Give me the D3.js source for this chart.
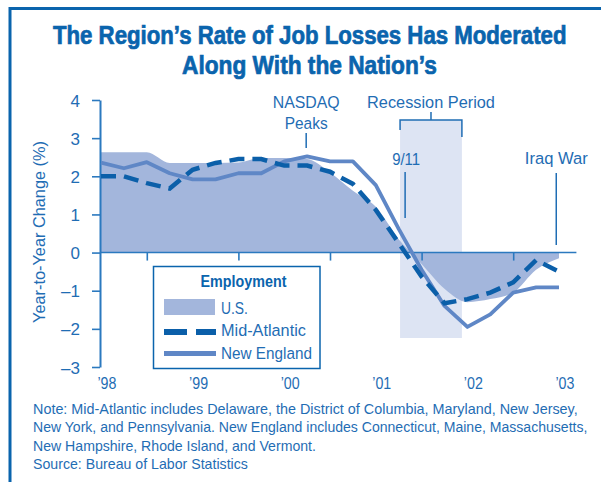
<!DOCTYPE html>
<html>
<head>
<meta charset="utf-8">
<script src="https://cdn.jsdelivr.net/npm/d3@7"></script>
<style>
  html, body { margin: 0; padding: 0; background: #fff; }
  svg { display: block; }
</style>
</head>
<body>
<div id="chart"></div>
<script>
// quarterly points, Q1 1998 .. Q1 2003
const quarters = d3.range(21).map(i => 1998 + i / 4);
const usValues = [2.63, 2.63, 2.63, 2.35, 2.35, 2.35, 2.36, 2.48, 2.48, 2.45, 2.1, 1.62, 1.2, 0.35, -0.3, -0.95, -1.3, -1.22, -1.05, -0.45, -0.15];
const midAtlantic = [2.0, 2.0, 1.82, 1.68, 2.17, 2.35, 2.45, 2.45, 2.28, 2.28, 2.12, 1.8, 1.12, 0.25, -0.63, -1.33, -1.22, -1.05, -0.78, -0.2, -0.5];
const newEngland = [2.36, 2.21, 2.37, 2.08, 1.92, 1.92, 2.08, 2.08, 2.39, 2.52, 2.39, 2.39, 1.77, 0.62, -0.45, -1.4, -1.95, -1.62, -1.05, -0.91, -0.91];

const yearLabels = ['\u201998', '\u201999', '\u201900', '\u201901', '\u201902', '\u201903'];
const years = [1998, 1999, 2000, 2001, 2002, 2003];
const yTicks = [4, 3, 2, 1, 0, -1, -2, -3];
const midYearTicks = [1998.5, 1999.5, 2000.5, 2001.5, 2002.5];

// events
const recession = [2001.265, 2001.94];
const nasdaqPeak = 2000.24;
const sept11 = 2001.32;
const iraqWar = 2002.97;

const noteLines = [
  'Note: Mid-Atlantic includes Delaware, the District of Columbia, Maryland, New Jersey,',
  'New York, and Pennsylvania. New England includes Connecticut, Maine, Massachusetts,',
  'New Hampshire, Rhode Island, and Vermont.',
  'Source: Bureau of Labor Statistics'
];
const noteWidths = [545, 555, 283, 215];

const W = 601, H = 482;
const TITLE = '#0a64ad';
const TEXT = '#1f6db4';
const AXIS = '#2b79bf';
const MA_COLOR = '#0b5fa9';
const NE_COLOR = '#5f87c6';
const US_COLOR = '#a3b6dc';
const REC_COLOR = '#dde4f3';
const FONT = "'Liberation Sans Narrow', 'Arial Narrow', 'Liberation Sans', Arial, sans-serif";

// squeeze a text horizontally to the measured width of the original (condensed face)
function squeeze(sel, w, extra) {
  const L = sel.node().getComputedTextLength();
  const tx = +sel.attr('x') || 0, ty = +sel.attr('y') || 0;
  sel.attr('x', 0).attr('y', 0)
    .attr('transform', `translate(${tx},${ty}) ${extra || ''} scale(${w / L},1)`);
  return sel;
}

const svg = d3.select('#chart').append('svg')
  .attr('width', W)
  .attr('height', H)
  .attr('font-family', FONT);

const x = d3.scaleLinear().domain([1998, 2003]).range([101, 559]);
const y = d3.scaleLinear().domain([-3, 4]).range([367, 100]);

// frame
svg.append('path')
  .attr('d', `M10,${H} V8.5 H${W}`)
  .attr('fill', 'none')
  .attr('stroke', TITLE)
  .attr('stroke-width', 3);

// title (thin stroke to get the heavy weight)
const titleG = svg.append('g')
  .attr('font-size', 25).attr('font-weight', 'bold')
  .attr('fill', TITLE).attr('stroke', TITLE).attr('stroke-width', 0.7);
squeeze(titleG.append('text').attr('x', 53).attr('y', 44)
  .text('The Region\u2019s Rate of Job Losses Has Moderated'), 514);
squeeze(titleG.append('text').attr('x', 182).attr('y', 74)
  .text('Along With the Nation\u2019s'), 255);

// recession shading
svg.append('rect')
  .attr('x', x(recession[0]))
  .attr('y', 120)
  .attr('width', x(recession[1]) - x(recession[0]))
  .attr('height', 338 - 120)
  .attr('fill', REC_COLOR);

// US area
const area = d3.area()
  .x((d, i) => x(quarters[i]))
  .y0(y(0))
  .y1(d => y(d))
  .curve(d3.curveMonotoneX);

svg.append('path')
  .datum(usValues)
  .attr('d', area)
  .attr('fill', US_COLOR);

// y axis
const yAxis = svg.append('g')
  .attr('transform', 'translate(100,0)')
  .call(d3.axisLeft(y).tickValues(yTicks).tickSize(8).tickSizeOuter(0).tickPadding(12)
    .tickFormat(d => d < 0 ? '\u2013' + Math.abs(d) : d));
yAxis.select('.domain').attr('stroke', AXIS).attr('stroke-width', 2);
yAxis.selectAll('.tick line').attr('stroke', AXIS).attr('stroke-width', 1.6);
yAxis.selectAll('.tick text')
  .attr('fill', TEXT)
  .attr('font-size', 17)
  .attr('font-family', FONT)
  .attr('dy', '0.36em');

// zero line with mid-year ticks
const xAxis = svg.append('g')
  .attr('transform', `translate(0,${y(0)})`)
  .call(d3.axisBottom(x).tickValues(midYearTicks).tickSize(8).tickFormat(''));
xAxis.select('.domain').remove();
xAxis.selectAll('.tick line').attr('stroke', AXIS).attr('stroke-width', 1.6);
svg.append('line')
  .attr('x1', 100).attr('x2', x(2003.19))
  .attr('y1', y(0)).attr('y2', y(0))
  .attr('stroke', AXIS).attr('stroke-width', 1.6);

// year labels
svg.append('g').selectAll('text')
  .data(years)
  .join('text')
  .attr('x', d => x(d + 0.065))
  .attr('y', 389)
  .attr('text-anchor', 'middle')
  .attr('font-size', 17)
  .attr('fill', TEXT)
  .text((d, i) => yearLabels[i])
  .each(function () { squeeze(d3.select(this), 19); });

// y label
squeeze(svg.append('text')
  .attr('x', 45).attr('y', 232)
  .attr('text-anchor', 'middle')
  .attr('font-size', 17)
  .attr('fill', TEXT)
  .text('Year-to-Year Change (%)'), 182, 'rotate(-90)');

// series lines
const line = d3.line().x((d, i) => x(quarters[i])).y(d => y(d));

svg.append('path')
  .datum(newEngland)
  .attr('d', line)
  .attr('fill', 'none')
  .attr('stroke', NE_COLOR)
  .attr('stroke-width', 3.8)
  .attr('stroke-linejoin', 'round');

svg.append('path')
  .datum(midAtlantic)
  .attr('d', line)
  .attr('fill', 'none')
  .attr('stroke', MA_COLOR)
  .attr('stroke-width', 4.5)
  .attr('stroke-dasharray', '15,8');

// annotations
const ann = svg.append('g').attr('fill', TEXT).attr('font-size', 17);

squeeze(ann.append('text').attr('x', x(nasdaqPeak)).attr('y', 107.7)
  .attr('text-anchor', 'middle').text('NASDAQ'), 67);
squeeze(ann.append('text').attr('x', x(nasdaqPeak)).attr('y', 129.3)
  .attr('text-anchor', 'middle').text('Peaks'), 43);
ann.append('line')
  .attr('x1', x(nasdaqPeak)).attr('x2', x(nasdaqPeak))
  .attr('y1', 133).attr('y2', 148)
  .attr('stroke', TEXT).attr('stroke-width', 1.5);

const recMid = (x(recession[0]) + x(recession[1])) / 2;
squeeze(ann.append('text').attr('x', recMid).attr('y', 107.7)
  .attr('text-anchor', 'middle').text('Recession Period'), 128);
ann.append('path')
  .attr('d', `M${x(recession[0])},130 V120 H${x(recession[1])} V137 M${recMid},112 V120`)
  .attr('fill', 'none')
  .attr('stroke', TEXT).attr('stroke-width', 1.5);

squeeze(ann.append('text').attr('x', x(sept11) + 1).attr('y', 165)
  .attr('text-anchor', 'middle').text('9/11'), 28);
ann.append('line')
  .attr('x1', x(sept11)).attr('x2', x(sept11))
  .attr('y1', 172).attr('y2', 218)
  .attr('stroke', TEXT).attr('stroke-width', 1.5);

squeeze(ann.append('text').attr('x', x(iraqWar)).attr('y', 164)
  .attr('text-anchor', 'middle').text('Iraq War'), 63);
ann.append('line')
  .attr('x1', x(iraqWar)).attr('x2', x(iraqWar))
  .attr('y1', 173).attr('y2', 245)
  .attr('stroke', TEXT).attr('stroke-width', 1.5);

// legend
const lg = svg.append('g').attr('transform', 'translate(153.5,266.5)');
lg.append('rect')
  .attr('width', 166.5).attr('height', 102)
  .attr('fill', '#fff')
  .attr('stroke', TITLE).attr('stroke-width', 1.5);
squeeze(lg.append('text').attr('x', 90).attr('y', 20.5)
  .attr('text-anchor', 'middle').attr('font-size', 16).attr('font-weight', 'bold')
  .attr('fill', TITLE).text('Employment'), 86);
lg.append('rect')
  .attr('x', 10.5).attr('y', 32.5).attr('width', 51).attr('height', 16)
  .attr('fill', US_COLOR);
lg.append('line')
  .attr('x1', 10.5).attr('x2', 62.5).attr('y1', 65.5).attr('y2', 65.5)
  .attr('stroke', MA_COLOR).attr('stroke-width', 6).attr('stroke-dasharray', '23,9');
lg.append('line')
  .attr('x1', 10.5).attr('x2', 62.5).attr('y1', 87).attr('y2', 87)
  .attr('stroke', NE_COLOR).attr('stroke-width', 5);
const legendItems = ['U.S.', 'Mid-Atlantic', 'New England'];
const legendWidths = [27, 85, 91];
lg.selectAll('text.item')
  .data(legendItems)
  .join('text')
  .attr('class', 'item')
  .attr('x', 67.5)
  .attr('y', (d, i) => 47 + i * 22.8)
  .attr('font-size', 17)
  .attr('fill', TEXT)
  .text(d => d)
  .each(function (d, i) { squeeze(d3.select(this), legendWidths[i]); });

// note
svg.append('g').selectAll('text')
  .data(noteLines)
  .join('text')
  .attr('x', 33)
  .attr('y', (d, i) => 414 + i * 18.4)
  .attr('font-size', 14)
  .attr('fill', TEXT)
  .text(d => d)
  .each(function (d, i) { squeeze(d3.select(this), noteWidths[i]); });
</script>
</body>
</html>
